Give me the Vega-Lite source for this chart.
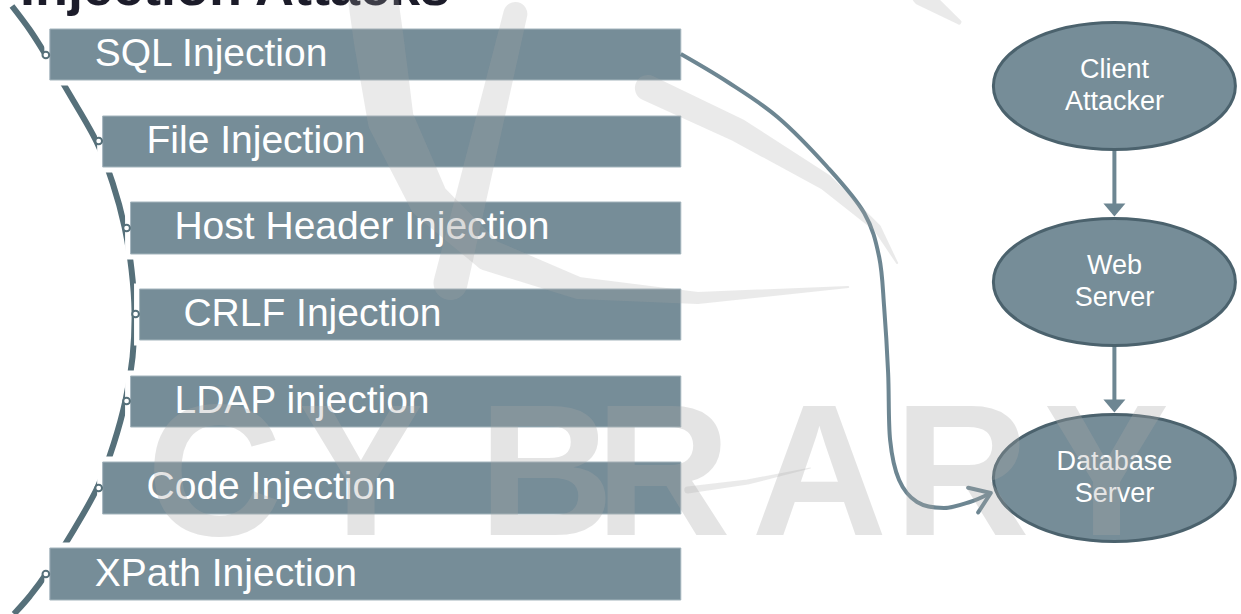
{
  "$schema": "https://vega.github.io/schema/vega-lite/v6.json",
  "width": 1241,
  "height": 614,
  "autosize": {"type": "fit", "contains": "padding"},
  "padding": 0,
  "background": "white",
  "config": {"view": {"stroke": null}},
  "datasets": {
    "bars": [
      {"label": "SQL Injection", "x": 50, "x2": 683, "y": 29, "y2": 80, "tx": 95, "ty": 54},
      {"label": "File Injection", "x": 103, "x2": 683, "y": 116, "y2": 167, "tx": 147, "ty": 141},
      {"label": "Host Header Injection", "x": 131, "x2": 683, "y": 202, "y2": 254, "tx": 175, "ty": 227},
      {"label": "CRLF Injection", "x": 140, "x2": 683, "y": 289, "y2": 340, "tx": 184, "ty": 314},
      {"label": "LDAP injection", "x": 131, "x2": 683, "y": 376, "y2": 427, "tx": 175, "ty": 401},
      {"label": "Code Injection", "x": 103, "x2": 683, "y": 462, "y2": 514, "tx": 147, "ty": 487},
      {"label": "XPath Injection", "x": 50, "x2": 683, "y": 548, "y2": 600, "tx": 95, "ty": 574}
    ],
    "arc": [
      {"i": 0, "x": 12, "y": 6}, {"i": 1, "x": 30, "y": 30}, {"i": 2, "x": 46, "y": 55},
      {"i": 3, "x": 72, "y": 98}, {"i": 4, "x": 97, "y": 142}, {"i": 5, "x": 113, "y": 183},
      {"i": 6, "x": 125, "y": 227}, {"i": 7, "x": 132, "y": 270}, {"i": 8, "x": 135, "y": 313},
      {"i": 9, "x": 133, "y": 357}, {"i": 10, "x": 126, "y": 400}, {"i": 11, "x": 114, "y": 444},
      {"i": 12, "x": 98, "y": 487}, {"i": 13, "x": 74, "y": 530}, {"i": 14, "x": 47, "y": 573},
      {"i": 15, "x": 30, "y": 596}, {"i": 16, "x": 14, "y": 614}
    ],
    "connectors": [
      {"x": 46, "y": 55}, {"x": 99, "y": 141}, {"x": 127, "y": 228}, {"x": 136, "y": 314},
      {"x": 127, "y": 401}, {"x": 99, "y": 488}, {"x": 46, "y": 574}
    ],
    "nodes": [
      {"name": "Client\nAttacker", "x": 1118, "y": 86, "ly": 70},
      {"name": "Web\nServer", "x": 1118, "y": 282, "ly": 266},
      {"name": "Database\nServer", "x": 1118, "y": 478, "ly": 462}
    ],
    "shafts": [
      {"x": 1118, "y": 150, "y2": 205},
      {"x": 1118, "y": 346, "y2": 401}
    ],
    "heads": [
      {"x": 1118, "y": 210},
      {"x": 1118, "y": 406}
    ],
    "curve": [
      {"i": 0, "x": 683, "y": 54}, {"i": 1, "x": 730, "y": 82}, {"i": 2, "x": 780, "y": 117},
      {"i": 3, "x": 830, "y": 167}, {"i": 4, "x": 867, "y": 213}, {"i": 5, "x": 882, "y": 257},
      {"i": 6, "x": 887, "y": 307}, {"i": 7, "x": 891, "y": 373}, {"i": 8, "x": 893, "y": 440},
      {"i": 9, "x": 902, "y": 480}, {"i": 10, "x": 920, "y": 502}, {"i": 11, "x": 947, "y": 508},
      {"i": 12, "x": 973, "y": 502}, {"i": 13, "x": 992, "y": 494}
    ],
    "tip": [{"x": 994, "y": 493}],
    "title": [{"text": "Injection Attacks", "x": 20, "y": 5}],
    "letters": [
      {"ch": "C", "x": 215, "y": 535}, {"ch": "Y", "x": 362, "y": 535},
      {"ch": "B", "x": 548, "y": 535}, {"ch": "R", "x": 665, "y": 535},
      {"ch": "A", "x": 822, "y": 535}, {"ch": "R", "x": 965, "y": 535},
      {"ch": "Y", "x": 1110, "y": 535}
    ],
    "swoosh": [
      {"id": "a", "i": 0, "x": 373, "y": -10, "w": 50},
      {"id": "a", "i": 1, "x": 380, "y": 40, "w": 50},
      {"id": "a", "i": 2, "x": 392, "y": 120, "w": 46},
      {"id": "a", "i": 3, "x": 430, "y": 200, "w": 40},
      {"id": "a", "i": 4, "x": 490, "y": 255, "w": 32},
      {"id": "a", "i": 5, "x": 580, "y": 288, "w": 22},
      {"id": "a", "i": 6, "x": 700, "y": 298, "w": 12},
      {"id": "a", "i": 7, "x": 851, "y": 287, "w": 2},
      {"id": "b", "i": 0, "x": 650, "y": 88, "w": 26},
      {"id": "b", "i": 1, "x": 740, "y": 130, "w": 24},
      {"id": "b", "i": 2, "x": 828, "y": 182, "w": 16},
      {"id": "b", "i": 3, "x": 880, "y": 228, "w": 8},
      {"id": "b", "i": 4, "x": 900, "y": 263, "w": 2},
      {"id": "c", "i": 0, "x": 517, "y": 14, "w": 24},
      {"id": "c", "i": 1, "x": 452, "y": 283, "w": 34},
      {"id": "d", "i": 0, "x": 925, "y": -4, "w": 20},
      {"id": "d", "i": 1, "x": 962, "y": 22, "w": 5},
      {"id": "e", "i": 0, "x": 690, "y": 490, "w": 7},
      {"id": "e", "i": 1, "x": 750, "y": 482, "w": 5},
      {"id": "e", "i": 2, "x": 813, "y": 468, "w": 1}
    ]
  },
  "layer": [
    {
      "data": {"name": "arc"},
      "mark": {"type": "line", "interpolate": "cardinal", "color": "#56707a", "strokeWidth": 6, "clip": true},
      "encoding": {
        "x": {"field": "x", "type": "quantitative", "scale": {"domain": [0, 1241], "nice": false, "zero": false}, "axis": null},
        "y": {"field": "y", "type": "quantitative", "scale": {"domain": [0, 614], "nice": false, "zero": false, "reverse": true}, "axis": null},
        "order": {"field": "i", "type": "quantitative"}
      }
    },
    {
      "data": {"name": "bars"},
      "mark": {"type": "rect", "fill": "white", "stroke": "white", "strokeWidth": 11},
      "encoding": {
        "x": {"field": "x", "type": "quantitative"},
        "x2": {"field": "x2"},
        "y": {"field": "y", "type": "quantitative"},
        "y2": {"field": "y2"}
      }
    },
    {
      "data": {"name": "bars"},
      "mark": {"type": "rect", "fill": "#768d98", "stroke": "#a3b4bc", "strokeWidth": 1},
      "encoding": {
        "x": {"field": "x", "type": "quantitative"},
        "x2": {"field": "x2"},
        "y": {"field": "y", "type": "quantitative"},
        "y2": {"field": "y2"}
      }
    },
    {
      "data": {"name": "bars"},
      "mark": {"type": "text", "align": "left", "baseline": "middle", "font": "Liberation Sans", "fontSize": 39, "color": "#ffffff"},
      "encoding": {
        "x": {"field": "tx", "type": "quantitative"},
        "y": {"field": "ty", "type": "quantitative"},
        "text": {"field": "label"}
      }
    },
    {
      "data": {"name": "connectors"},
      "mark": {"type": "point", "shape": "circle", "filled": true, "fill": "white", "stroke": "#56707a", "strokeWidth": 2, "size": 45, "opacity": 1},
      "encoding": {
        "x": {"field": "x", "type": "quantitative"},
        "y": {"field": "y", "type": "quantitative"}
      }
    },
    {
      "data": {"name": "curve"},
      "mark": {"type": "line", "interpolate": "cardinal", "color": "#6d8692", "strokeWidth": 4},
      "encoding": {
        "x": {"field": "x", "type": "quantitative"},
        "y": {"field": "y", "type": "quantitative"},
        "order": {"field": "i", "type": "quantitative"}
      }
    },
    {
      "data": {"name": "tip"},
      "mark": {"type": "point", "shape": "M-1,-0.7L0,0L-1,0.7", "filled": false, "stroke": "#6d8692", "strokeWidth": 4, "strokeCap": "round", "strokeJoin": "round", "size": 1444, "angle": -22, "opacity": 1},
      "encoding": {
        "x": {"field": "x", "type": "quantitative"},
        "y": {"field": "y", "type": "quantitative"}
      }
    },
    {
      "data": {"name": "shafts"},
      "mark": {"type": "rule", "color": "#6d8692", "strokeWidth": 4},
      "encoding": {
        "x": {"field": "x", "type": "quantitative"},
        "y": {"field": "y", "type": "quantitative"},
        "y2": {"field": "y2"}
      }
    },
    {
      "data": {"name": "heads"},
      "mark": {"type": "point", "shape": "M-1,-0.6L1,-0.6L0,0.6Z", "filled": true, "fill": "#6d8692", "size": 484, "opacity": 1},
      "encoding": {
        "x": {"field": "x", "type": "quantitative"},
        "y": {"field": "y", "type": "quantitative"}
      }
    },
    {
      "data": {"name": "nodes"},
      "mark": {"type": "point", "shape": "M-1,0A1,0.525,0,1,1,1,0A1,0.525,0,1,1,-1,0Z", "filled": true, "fill": "#768d98", "stroke": "#4b626d", "strokeWidth": 3, "size": 58564, "opacity": 1},
      "encoding": {
        "x": {"field": "x", "type": "quantitative"},
        "y": {"field": "y", "type": "quantitative"}
      }
    },
    {
      "data": {"name": "nodes"},
      "mark": {"type": "text", "align": "center", "baseline": "middle", "lineBreak": "\n", "lineHeight": 32, "font": "Liberation Sans", "fontSize": 27, "color": "#ffffff"},
      "encoding": {
        "x": {"field": "x", "type": "quantitative"},
        "y": {"field": "ly", "type": "quantitative"},
        "text": {"field": "name"}
      }
    },
    {
      "data": {"name": "title"},
      "mark": {"type": "text", "align": "left", "baseline": "alphabetic", "font": "Liberation Sans", "fontSize": 54, "fontWeight": "bold", "color": "#1c1c2a", "clip": true},
      "encoding": {
        "x": {"field": "x", "type": "quantitative"},
        "y": {"field": "y", "type": "quantitative"},
        "text": {"field": "text"}
      }
    },
    {
      "data": {"name": "swoosh"},
      "mark": {"type": "trail", "color": "#a8a8a8", "opacity": 0.24, "clip": true},
      "encoding": {
        "x": {"field": "x", "type": "quantitative"},
        "y": {"field": "y", "type": "quantitative"},
        "size": {"field": "w", "type": "quantitative", "scale": null, "legend": null},
        "detail": {"field": "id"},
        "order": {"field": "i", "type": "quantitative"}
      }
    },
    {
      "data": {"name": "letters"},
      "mark": {"type": "text", "align": "center", "baseline": "alphabetic", "font": "Liberation Sans", "fontSize": 188, "fontWeight": "bold", "color": "#a8a8a8", "opacity": 0.3},
      "encoding": {
        "x": {"field": "x", "type": "quantitative"},
        "y": {"field": "y", "type": "quantitative"},
        "text": {"field": "ch"}
      }
    }
  ]
}
